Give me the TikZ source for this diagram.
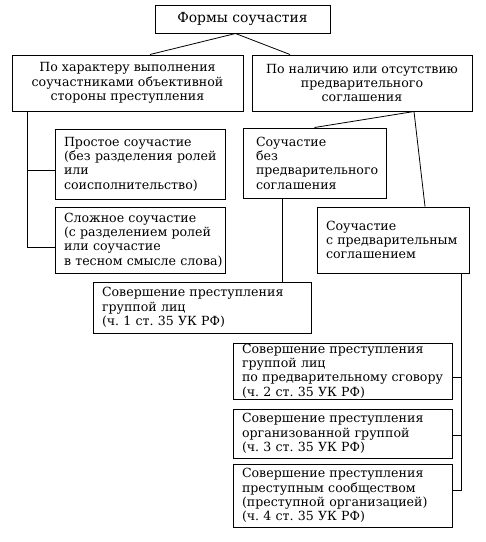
\documentclass[tikz,border=0pt]{standalone}
\usepackage{fontspec}
\setmainfont{DejaVu Serif}
\frenchspacing
\begin{document}
\begin{tikzpicture}[x=1pt,y=-1pt,
  box/.style={draw, line width=1pt, inner xsep=9pt, inner ysep=0pt, font=\fontsize{12.6}{14.3}\selectfont},
  lbox/.style={box, align=left},
  cbox/.style={box, align=center},
  con/.style={line width=0.8pt}]
\useasboundingbox (0,0) rectangle (486,542);
\node[cbox, minimum width=175pt, minimum height=28pt, font=\fontsize{13.9}{15}\selectfont] (top) at (242.5,19) {Формы~соучастия};
\node[cbox, minimum width=231pt, minimum height=56pt] (L1) at (127.5,83) {По~характеру~выполнения\\соучастниками~объективной\\стороны~преступления};
\node[cbox, minimum width=220pt, minimum height=56pt] (R1) at (362,83) {По~наличию~или~отсутствию\\предварительного\\соглашения};
\node[lbox, minimum width=170pt, minimum height=70pt, text width=152pt] (P) at (140,164) {Простое~соучастие\\(без~разделения~ролей\\или\\соисполнительство)};
\node[lbox, minimum width=170pt, minimum height=66pt, text width=152pt] (S) at (140,240) {Сложное~соучастие\\(с~разделением~ролей\\или~соучастие\\в~тесном~смысле~слова)};
\node[lbox, minimum width=143pt, minimum height=70pt, text width=117pt, inner xsep=13pt] (B) at (314.5,163) {Соучастие\\без\\предварительного\\соглашения};
\node[lbox, minimum width=152pt, minimum height=66pt, text width=134pt] (C) at (393,240) {Соучастие\\с~предварительным\\соглашением};
\node[lbox, minimum width=218pt, minimum height=51pt, text width=200pt] (G1) at (202,307.5) {Совершение~преступления\\группой~лиц\\(ч.~1~ст.~35~УК~РФ)};
\node[lbox, minimum width=219pt, minimum height=56pt, text width=201pt] (G2) at (342.5,371) {Совершение~преступления\\группой~лиц\\по~предварительному~сговору\\(ч.~2~ст.~35~УК~РФ)};
\node[lbox, minimum width=219pt, minimum height=49pt, text width=201pt] (G3) at (342.5,433.5) {Совершение~преступления\\организованной~группой\\(ч.~3~ст.~35~УК~РФ)};
\node[lbox, minimum width=219pt, minimum height=63pt, text width=201pt] (G4) at (342.5,495.5) {Совершение~преступления\\преступным~сообществом\\(преступной~организацией)\\(ч.~4~ст.~35~УК~РФ)};
% top connectors
\draw[con] ([xshift=22.5pt]L1.north) -- ([xshift=-7pt]top.south) -- ([xshift=-72pt]R1.north);
\draw[con] ([xshift=52pt]R1.south) -- (B.north);
\draw[con] ([xshift=52pt]R1.south) -- ([xshift=32pt]C.north);
% left bracket
\coordinate (lx) at ([xshift=16pt]L1.south west);
\coordinate (pw) at ([yshift=-6pt]P.west);
\coordinate (sw) at ([yshift=-7pt]S.west);
\draw[con] (lx) |- (sw);
\draw[con] (lx |- pw) -- (pw);
% B to G1
\coordinate (bs) at ([xshift=-32.5pt]B.south);
\draw[con] (bs) -- (bs |- G1.north);
% right bracket
\coordinate (cx) at ([xshift=-8pt]C.south east);
\coordinate (g2) at ([yshift=-6pt]G2.east);
\coordinate (g3) at ([yshift=-1.5pt]G3.east);
\coordinate (g4) at ([yshift=5.5pt]G4.east);
\draw[con] (cx) |- (g4);
\draw[con] (cx |- g2) -- (g2);
\draw[con] (cx |- g3) -- (g3);
\end{tikzpicture}
\end{document}
